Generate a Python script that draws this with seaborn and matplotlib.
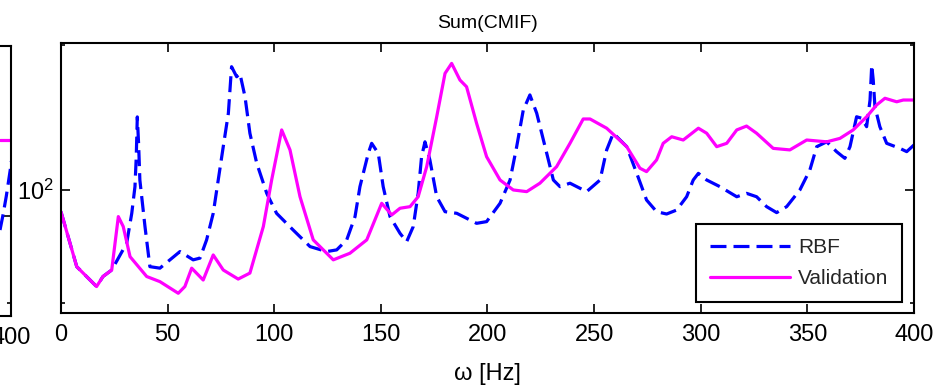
import numpy as np
import pandas as pd
import matplotlib
matplotlib.use("Agg")
import matplotlib.pyplot as plt
from matplotlib.ticker import FixedLocator, NullFormatter
import seaborn as sns

# Sum(CMIF) curves, frequency in Hz
rbf_hz = [0, 7.4, 16.7, 19.7, 23.8, 30.8, 33.2, 34.7, 35.3, 35.8, 36.4, 37.0,
          39.4, 41.7, 46.4, 51.1, 55.8, 62.0, 65.2, 68.3, 71.4, 76.1, 78.5,
          80.0, 82.4, 83.9, 86.3, 88.6, 91.8, 96.5, 101.1, 108.9, 116.8,
          124.6, 129.3, 134.0, 137.9, 140.2, 144.1, 145.7, 148.8, 151.1,
          154.3, 159.0, 162.1, 165.2, 167.5, 169.1, 170.7, 173.0, 176.2,
          180.1, 185.6, 194.9, 199.6, 205.9, 210.6, 213.7, 216.8, 219.9,
          223.1, 227.8, 230.9, 234.0, 238.7, 246.5, 252.8, 255.9, 259.0,
          265.3, 270.0, 274.6, 279.3, 284.0, 288.7, 293.4, 296.5, 298.9,
          302.8, 309.0, 316.9, 321.5, 326.2, 330.9, 335.6, 340.3, 346.5,
          351.2, 354.4, 359.1, 363.7, 367.6, 370.0, 373.1, 375.5, 377.8,
          379.4, 380.2, 380.9, 381.7, 384.0, 387.2, 393.4, 396.6, 400]
rbf_val = [90.1, 69.2, 62.9, 66.0, 68.1, 77.4, 89.4, 101.6, 117.0, 142.0,
           125.0, 104.9, 83.9, 69.2, 68.7, 71.5, 74.4, 71.5, 72.1, 78.7,
           89.4, 123.1, 144.5, 180.7, 172.2, 175.0, 156.5, 131.3, 113.7,
           98.4, 89.4, 82.5, 76.2, 74.4, 75.0, 78.7, 88.0, 101.6, 119.2,
           125.1, 119.2, 101.6, 88.0, 81.2, 78.0, 83.9, 98.4, 117.3, 126.0,
           115.5, 96.8, 90.1, 89.4, 85.2, 85.9, 93.8, 104.9, 123.1, 146.8,
           157.8, 144.5, 119.2, 104.9, 101.6, 103.3, 99.2, 104.9, 121.2,
           131.3, 123.1, 108.3, 95.3, 90.1, 89.1, 90.8, 96.8, 104.9, 108.3,
           104.9, 101.6, 96.8, 98.4, 96.8, 92.3, 89.7, 92.3, 100.0, 110.1,
           123.1, 126.0, 120.2, 116.4, 123.1, 142.1, 141.1, 135.5, 154.0,
           182.1, 169.5, 149.1, 135.5, 125.1, 122.1, 120.2, 124.1]

val_hz = [0, 7.4, 16.7, 19.7, 23.8, 26.9, 29.2, 32.4, 40.2, 46.4, 55.0, 58.1,
          61.3, 66.7, 71.4, 76.1, 83.1, 88.6, 94.9, 98.8, 103.5, 107.4,
          112.1, 118.3, 127.7, 135.5, 143.4, 150.4, 155.1, 159.0, 163.7,
          167.5, 171.5, 176.2, 180.1, 183.2, 187.1, 190.2, 194.9, 199.6,
          205.9, 212.1, 218.4, 224.6, 232.4, 238.7, 244.9, 248.1, 255.9,
          265.3, 271.5, 274.6, 279.3, 282.4, 286.4, 291.8, 298.9, 302.8,
          307.5, 312.2, 316.9, 321.5, 326.2, 334.0, 341.8, 349.7, 359.1,
          365.3, 371.5, 377.8, 382.5, 386.4, 391.9, 395.0, 400]
val_val = [90.1, 69.2, 62.9, 66.0, 68.1, 88.0, 83.9, 72.6, 66.0, 64.4, 60.9,
           62.9, 68.7, 64.9, 73.2, 68.1, 65.2, 67.1, 83.9, 104.9, 133.4,
           121.2, 96.8, 78.7, 71.5, 73.8, 78.7, 93.8, 88.7, 91.6, 92.3, 96.8,
           111.8, 142.1, 175.0, 183.6, 169.5, 164.1, 137.7, 117.3, 104.9,
           100.0, 99.2, 103.3, 111.8, 125.1, 140.6, 140.6, 134.5, 123.1,
           111.0, 109.2, 115.5, 125.1, 129.1, 127.1, 134.5, 131.3, 123.1,
           125.1, 133.4, 135.9, 131.3, 122.1, 121.2, 127.1, 126.0, 128.1,
           133.4, 142.1, 150.4, 155.3, 152.7, 154.0, 154.0]

# tail end of the neighbouring subplot (only its right edge is in view)
prev_rbf_hz = [384, 388, 393, 398.6, 400]
prev_rbf_val = [93.5, 100.0, 110.0, 124.7, 130.0]
prev_val_hz = [384, 400]
prev_val_val = [144.0, 144.0]

x_ticks = [0, 50, 100, 150, 200, 250, 300, 350, 400]

sns.set_theme(style="ticks")
plt.rcParams["font.family"] = ["Liberation Sans", "DejaVu Sans"]
plt.rcParams["mathtext.fontset"] = "custom"
plt.rcParams["mathtext.rm"] = "Liberation Sans"
plt.rcParams["axes.linewidth"] = 1.5

colors = {"RBF": "#0000ff", "Validation": "#ff00ff"}
dashes = {"RBF": (5, 2.2), "Validation": ""}


def long_table(rbf_x, rbf_y, val_x, val_y):
    return pd.concat([
        pd.DataFrame({"f": rbf_x, "v": rbf_y, "series": "RBF"}),
        pd.DataFrame({"f": val_x, "v": val_y, "series": "Validation"}),
    ], ignore_index=True)


def matlab_axes(ax, ylim, minor):
    ax.set_yscale("log")
    ax.set_xlim(0, 400)
    ax.set_ylim(*ylim)
    ax.set_xticks(x_ticks)
    ax.yaxis.set_major_locator(FixedLocator([100]))
    ax.yaxis.set_minor_locator(FixedLocator(minor))
    ax.yaxis.set_minor_formatter(NullFormatter())
    ax.tick_params(which="both", direction="in", top=True, right=True,
                   color="black", width=1.2, labelsize=17, labelcolor="black")
    ax.tick_params(which="major", length=6.5)
    ax.tick_params(axis="x", pad=8)
    ax.tick_params(axis="y", pad=5)
    ax.tick_params(which="minor", length=3)
    ax.set_xlabel("")
    ax.set_ylabel("")
    for s in ax.spines.values():
        s.set_color("black")


fig = plt.figure(figsize=(9.35, 3.89), dpi=100)
ax0 = fig.add_axes([-0.288, 0.1877, 0.3, 0.694])
ax = fig.add_axes([0.0652, 0.1954, 0.9123, 0.6941])

sns.lineplot(data=long_table(prev_rbf_hz, prev_rbf_val, prev_val_hz, prev_val_val),
             x="f", y="v", hue="series", style="series", palette=colors,
             dashes=dashes, linewidth=2.3, estimator=None, sort=False,
             legend=False, ax=ax0)
matlab_axes(ax0, (61.9, 226), [65.9])
ax0.set_xticks([400])
ax0.tick_params(axis="y", labelleft=False)

sns.lineplot(data=long_table(rbf_hz, rbf_val, val_hz, val_val),
             x="f", y="v", hue="series", style="series", palette=colors,
             dashes=dashes, linewidth=2.3, estimator=None, sort=False,
             legend=False, ax=ax)
matlab_axes(ax, (55.4, 202.5), [58.1, 200.5])

ax.set_title("Sum(CMIF)", fontsize=14, pad=11, color="black")
ax.set_xlabel("ω [Hz]", fontsize=17, labelpad=12, color="black")

leg = ax.legend(ax.lines[:2], ["RBF", "Validation"], loc="lower right",
                bbox_to_anchor=(0.986, 0.041), borderaxespad=0, fontsize=15,
                frameon=True, fancybox=False, framealpha=1, edgecolor="black",
                handlelength=3.85, handletextpad=0.4, borderpad=0.65,
                labelspacing=0.6)
leg.get_frame().set_linewidth(1.5)

fig.savefig("out.png", dpi=100)
